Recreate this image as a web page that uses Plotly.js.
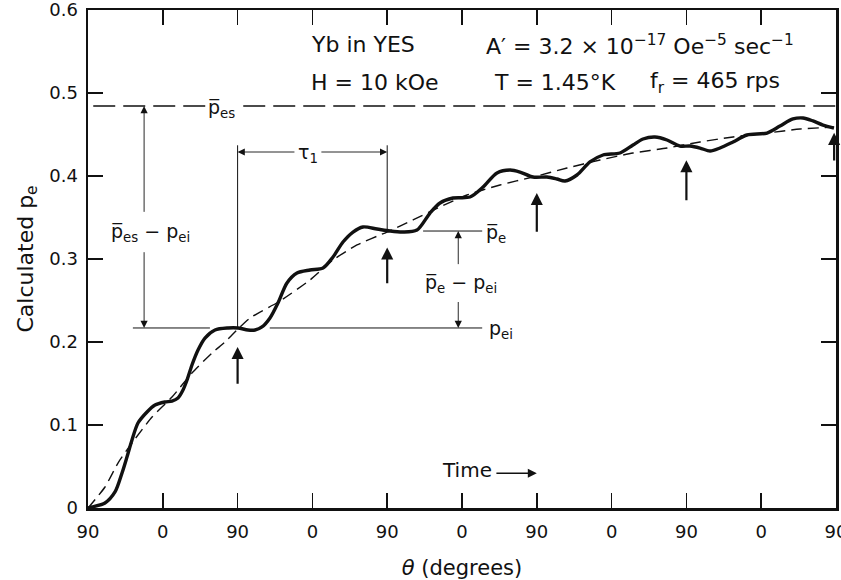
<!DOCTYPE html>
<html>
<head>
<meta charset="utf-8">
<script src="https://cdn.plot.ly/plotly-3.0.1.min.js"></script>
<style>html,body{margin:0;padding:0;background:#fff;}#chart{width:841px;height:580px;}</style>
</head>
<body>
<div id="chart"></div>
<script>
// x in units of 90 degrees of rotation (0..10), y = calculated p_e
const thetaTickVals = [0,1,2,3,4,5,6,7,8,9,10];
const thetaTickText = ["90","0","90","0","90","0","90","0","90","0","90"];
const yTickVals = [0,0.1,0.2,0.3,0.4,0.5,0.6];
const yTickText = ["0","0.1","0.2","0.3","0.4","0.5","0.6"];

// Calculated p_e (solid, oscillating)
const solidX = [0,0.053,0.227,0.361,0.455,0.521,0.588,0.668,0.789,0.896,1.029,1.123,1.203,1.270,1.324,1.390,1.471,1.564,1.698,1.872,2.005,2.139,2.233,2.326,2.433,2.540,2.660,2.794,2.968,3.142,3.275,3.409,3.543,3.676,3.864,4.037,4.211,4.398,4.572,4.706,4.880,5.107,5.281,5.468,5.642,5.775,5.949,6.136,6.270,6.377,6.537,6.711,6.885,7.112,7.286,7.420,7.580,7.741,7.914,8.048,8.182,8.316,8.449,8.623,8.810,9.078,9.251,9.425,9.559,9.693,9.826,9.973];
const solidY = [0,0.0012,0.006,0.0193,0.0422,0.0614,0.0819,0.1024,0.1157,0.1241,0.1277,0.1289,0.1325,0.1422,0.1542,0.1723,0.1904,0.2048,0.2145,0.2169,0.2169,0.2145,0.2145,0.2181,0.2289,0.247,0.2711,0.2831,0.2867,0.2892,0.3024,0.3205,0.3325,0.3386,0.3361,0.3337,0.3325,0.3349,0.3554,0.3675,0.3735,0.3747,0.3867,0.4036,0.4072,0.4048,0.3988,0.3988,0.3964,0.394,0.4012,0.4169,0.4253,0.4277,0.4373,0.4446,0.447,0.4434,0.4361,0.4361,0.4337,0.4301,0.4337,0.441,0.4494,0.4518,0.4602,0.4687,0.4699,0.4663,0.4614,0.4578];

// Smooth mean curve (dashed)
const dashX = [0,0.227,0.401,0.588,0.856,1.123,1.390,1.658,1.832,2.005,2.166,2.567,2.968,3.275,3.596,3.997,4.345,4.706,5.067,5.508,5.949,6.404,6.845,7.286,7.741,8.182,8.623,9.078,9.519,9.973];
const dashY = [0,0.0253,0.0542,0.0783,0.1096,0.1337,0.1627,0.1867,0.2,0.2157,0.2289,0.2494,0.2747,0.2988,0.3169,0.3325,0.347,0.3627,0.3771,0.3892,0.3988,0.4096,0.4193,0.4277,0.4337,0.441,0.447,0.4518,0.4566,0.459];

// Upward arrows marking theta = 90
const arrowX = [2,4,6,8,9.975];
const arrowTailY = [0.148,0.269,0.331,0.369,0.417];
const arrowHeadY = [0.194,0.314,0.3795,0.419,0.452];

// Reference levels
const pEs = 0.4843;
const pEi = 0.2169;
const pEbar = 0.3337;
const tauTop = 0.437;
const tauY = 0.4289;
const tauStart = 2, tauEnd = 4;

const FONT = "DejaVu Sans, sans-serif";
const INK = "#111";

const traces = [
  {x: dashX, y: dashY, mode: "lines", line: {color: INK, width: 1.4, dash: "11px,6px", shape: "spline", smoothing: 0.6}, hoverinfo: "skip", showlegend: false},
  {x: solidX, y: solidY, mode: "lines", line: {color: INK, width: 3.4, shape: "spline", smoothing: 0.8}, hoverinfo: "skip", showlegend: false}
];

const shapes = [
  {type: "line", xref: "x", yref: "y", x0: 0.07, x1: 10, y0: pEs, y1: pEs, line: {color: INK, width: 1.5, dash: "22px,8px"}},
  {type: "line", xref: "x", yref: "y", x0: 0.60, x1: 1.63, y0: pEi, y1: pEi, line: {color: INK, width: 1}},
  {type: "line", xref: "x", yref: "y", x0: 2.43, x1: 5.27, y0: pEi, y1: pEi, line: {color: INK, width: 1}},
  {type: "line", xref: "x", yref: "y", x0: 4.48, x1: 5.27, y0: pEbar, y1: pEbar, line: {color: INK, width: 1}},
  {type: "line", xref: "x", yref: "y", x0: tauStart, x1: tauStart, y0: pEi, y1: tauTop, line: {color: INK, width: 1}},
  {type: "line", xref: "x", yref: "y", x0: tauEnd, x1: tauEnd, y0: pEbar, y1: tauTop, line: {color: INK, width: 1}}
];

const annotations = [];
// thick upward arrows
arrowX.forEach((x, i) => {
  annotations.push({x: x, y: arrowHeadY[i], ax: x, ay: arrowTailY[i], xref: "x", yref: "y", axref: "x", ayref: "y",
    text: "", showarrow: true, arrowhead: 2, arrowsize: 1.1, arrowwidth: 2.2, arrowcolor: INK, standoff: 0});
});
function thinArrow(x, y, ax, ay, w) {
  annotations.push({x: x, y: y, ax: ax, ay: ay, xref: "x", yref: "y", axref: "x", ayref: "y",
    text: "", showarrow: true, arrowhead: 2, arrowsize: w ? 1.2 : 1.6, arrowwidth: w || 0.9, arrowcolor: INK, standoff: 0});
}
// tau_1 horizontal double arrow
thinArrow(tauStart, tauY, 2.78, tauY);
thinArrow(tauEnd, tauY, 3.1, tauY);
// p_es - p_ei vertical double arrow
thinArrow(0.75, pEs, 0.75, 0.355);
thinArrow(0.75, pEi, 0.75, 0.31);
// p_e - p_ei vertical double arrow
thinArrow(4.95, pEbar, 4.95, 0.292);
thinArrow(4.95, pEi, 4.95, 0.25);
// Time arrow
thinArrow(6.0, 0.042, 5.44, 0.042, 1.5);

function label(text, x, y, xanchor, size, bg) {
  const a = {x: x, y: y, xref: "x", yref: "y", text: text, showarrow: false, xanchor: xanchor || "left", yanchor: "middle",
    font: {family: FONT, size: size || 20, color: INK}};
  if (bg) { a.bgcolor = "#fff"; a.borderpad = 1; }
  annotations.push(a);
}
label("p\u0305<sub>es</sub>", 1.79, 0.481, "center", 19, true);
label("\u03C4<sub>1</sub>", 2.94, 0.427, "center", 19);
label("p\u0305<sub>es</sub> \u2212 p<sub>ei</sub>", 0.83, 0.3325, "center", 19, true);
label("p\u0305<sub>e</sub>", 5.30, 0.331, "left", 19);
label("p\u0305<sub>e</sub> \u2212 p<sub>ei</sub>", 4.98, 0.271, "center", 19, true);
label("p<sub>ei</sub>", 5.33, 0.2145, "left", 19);
label("Time", 4.71, 0.0458, "left", 20);
label("Yb in YES", 2.95, 0.558, "left", 22);
label("A\u2032 = 3.2 \u00D7 10<sup>\u221217</sup> Oe<sup>\u22125</sup> sec<sup>\u22121</sup>", 5.30, 0.558, "left", 22);
label("H = 10 kOe", 2.95, 0.513, "left", 22);
label("T = 1.45\u00B0K", 5.40, 0.513, "left", 22);
label("f<sub>r</sub> = 465 rps", 7.48, 0.513, "left", 22);

const layout = {
  width: 841, height: 580,
  margin: {l: 88, r: 5, t: 10, b: 72, pad: 0},
  paper_bgcolor: "#fff", plot_bgcolor: "#fff",
  font: {family: FONT, color: INK},
  showlegend: false,
  xaxis: {
    range: [0, 10], tickmode: "array", tickvals: thetaTickVals, ticktext: thetaTickText,
    ticks: "inside", ticklen: 15, tickwidth: 1.5, tickcolor: INK,
    showline: true, linewidth: 2.5, linecolor: INK, mirror: "ticks",
    showgrid: false, zeroline: false, ticklabelstandoff: 6, ticklabeloverflow: "allow",
    tickfont: {family: FONT, size: 18, color: INK},
    title: {text: "<i>\u03B8</i> (degrees)", font: {family: FONT, size: 21, color: INK}}
  },
  yaxis: {
    range: [0, 0.6], tickmode: "array", tickvals: yTickVals, ticktext: yTickText,
    ticks: "inside", ticklen: 15, tickwidth: 1.5, tickcolor: INK,
    showline: true, linewidth: 2.5, linecolor: INK, mirror: "ticks",
    showgrid: false, zeroline: false, ticklabelstandoff: 4, ticklabeloverflow: "allow",
    tickfont: {family: FONT, size: 18, color: INK},
    title: {text: "Calculated p<sub>e</sub>", font: {family: FONT, size: 22, color: INK}}
  },
  shapes: shapes,
  annotations: annotations
};

Plotly.newPlot("chart", traces, layout, {staticPlot: true, displayModeBar: false});
</script>
</body>
</html>
